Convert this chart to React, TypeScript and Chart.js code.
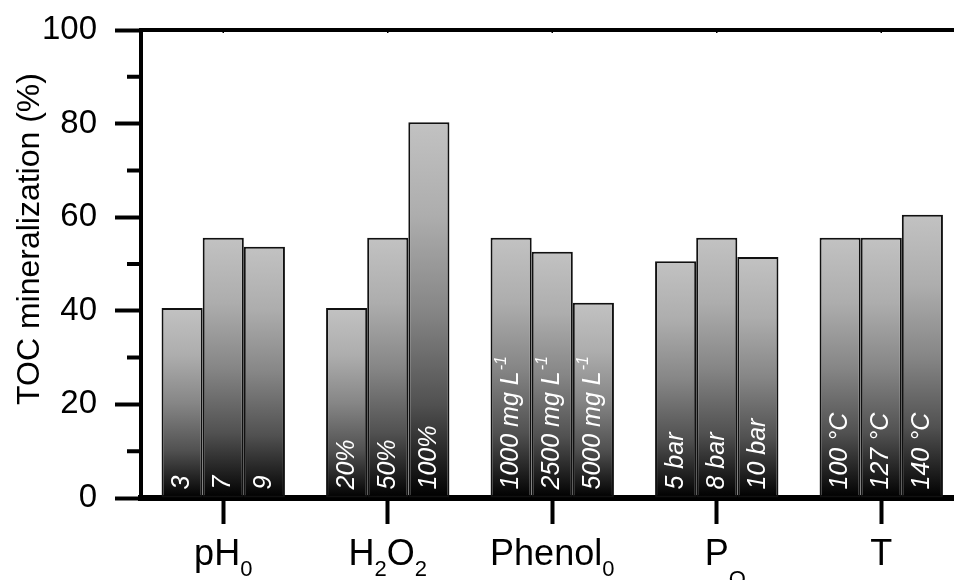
import React, { useEffect, useRef } from 'react';
import { Chart, registerables } from 'chart.js';

Chart.register(...registerables);

const FONT = '"Liberation Sans", Arial, sans-serif';

// Categories (x groups)
const categories = ['pH0', 'H2O2', 'Phenol0', 'PO2', 'T'];
// Rich x labels: [text, level] (0 = main, 1 = subscript, 2 = lower subscript, 3 = sub-subscript)
const categoryParts: [string, number][][] = [
  [['pH', 0], ['0', 1]],
  [['H', 0], ['2', 1], ['O', 0], ['2', 1]],
  [['Phenol', 0], ['0', 1]],
  [['P', 0], ['O', 2], ['2', 3]],
  [['T', 0]],
];

// TOC mineralization (%) for the three levels of each variable
const seriesLow = [40.6, 40.6, 55.6, 50.6, 55.6];
const seriesMid = [55.6, 55.6, 52.6, 55.6, 55.6];
const seriesHigh = [53.7, 80.3, 41.7, 51.5, 60.5];

// In-bar labels
const labelsLow = ['3', '20%', '1000 mg L', '5 bar', '100 °C'];
const labelsMid = ['7', '50%', '2500 mg L', '8 bar', '127 °C'];
const labelsHigh = ['9', '100%', '5000 mg L', '10 bar', '140 °C'];
const labelSup = ['', '', '-1', '', ''];

// Y axis
const yTitle = 'TOC mineralization (%)';
const yMin = 0;
const yMax = 100;
const yMajorStep = 20;
const yMinorTicks = [10, 30, 50, 70, 90];

const barLabels = [labelsLow, labelsMid, labelsHigh];

const levelStyle: Record<number, { size: number; dy: number }> = {
  0: { size: 36, dy: 0 },
  1: { size: 22, dy: 11 },
  2: { size: 22, dy: 21 },
  3: { size: 15, dy: 27 },
};

function gradientFill(ctx: any) {
  const chart = ctx.chart;
  const area = chart.chartArea;
  if (!area || ctx.type !== 'data') return '#c0c0c0';
  const y = chart.scales.y;
  const top = y.getPixelForValue(ctx.raw);
  const bottom = y.getPixelForValue(0);
  if (!isFinite(top) || !isFinite(bottom) || bottom - top < 1) return '#c0c0c0';
  const g = chart.ctx.createLinearGradient(0, top, 0, bottom);
  g.addColorStop(0, '#c2c2c2');
  g.addColorStop(0.25, '#adadad');
  g.addColorStop(0.5, '#868686');
  g.addColorStop(0.75, '#515151');
  g.addColorStop(1, '#000000');
  return g;
}

const decorPlugin = {
  id: 'decor',
  afterDatasetsDraw(chart: any) {
    const ctx = chart.ctx;
    ctx.save();
    chart.data.datasets.forEach((_ds: any, i: number) => {
      const meta = chart.getDatasetMeta(i);
      meta.data.forEach((bar: any, j: number) => {
        const { x, base } = bar.getProps(['x', 'base'], true);
        const text = barLabels[i][j];
        ctx.save();
        ctx.translate(x, base - 8);
        ctx.rotate(-Math.PI / 2);
        ctx.fillStyle = '#ffffff';
        ctx.textBaseline = 'middle';
        ctx.textAlign = 'left';
        ctx.font = `italic 25px ${FONT}`;
        ctx.fillText(text, 0, 0);
        const sup = labelSup[j];
        if (sup) {
          const w = ctx.measureText(text).width;
          ctx.font = `italic 16px ${FONT}`;
          ctx.fillText(sup, w + 1, -10);
        }
        ctx.restore();
      });
    });
    ctx.restore();
  },
  afterDraw(chart: any) {
    const ctx = chart.ctx;
    const { left, right, top, bottom } = chart.chartArea;
    const ys = chart.scales.y;
    const xs = chart.scales.x;
    ctx.save();
    ctx.strokeStyle = '#000';
    ctx.lineCap = 'butt';
    // top frame line and right frame line
    ctx.lineWidth = 4;
    ctx.beginPath();
    ctx.moveTo(left - 2, top);
    ctx.lineTo(right + 2, top);
    ctx.moveTo(right, top);
    ctx.lineTo(right, bottom);
    ctx.stroke();
    // minor y ticks
    ctx.lineWidth = 4;
    ctx.beginPath();
    yMinorTicks.forEach((v) => {
      const py = ys.getPixelForValue(v);
      ctx.moveTo(left - 14, py);
      ctx.lineTo(left, py);
    });
    ctx.stroke();
    // small top ticks at category centers
    ctx.lineWidth = 1.5;
    ctx.beginPath();
    categories.forEach((_c, i) => {
      const px = xs.getPixelForValue(i);
      ctx.moveTo(px, top);
      ctx.lineTo(px, top + 3);
    });
    ctx.stroke();
    // y axis title
    ctx.fillStyle = '#000';
    ctx.save();
    ctx.translate(30, (top + bottom) / 2 - 25);
    ctx.rotate(-Math.PI / 2);
    ctx.textAlign = 'center';
    ctx.textBaseline = 'middle';
    ctx.font = `32px ${FONT}`;
    ctx.fillText(yTitle, 0, 0);
    ctx.restore();
    // x category labels with subscripts
    ctx.textBaseline = 'alphabetic';
    ctx.textAlign = 'left';
    const baseY = 565;
    categoryParts.forEach((parts, i) => {
      const cx = xs.getPixelForValue(i);
      let centred = 0;
      const widths = parts.map(([t, lvl]) => {
        ctx.font = `${levelStyle[lvl].size}px ${FONT}`;
        const w = ctx.measureText(t).width;
        if (lvl <= 1) centred += w;
        return w;
      });
      let x = cx - centred / 2;
      parts.forEach(([t, lvl], k) => {
        ctx.font = `${levelStyle[lvl].size}px ${FONT}`;
        ctx.fillText(t, x, baseY + levelStyle[lvl].dy);
        x += widths[k];
      });
    });
    ctx.restore();
  },
};

export default function App() {
  const canvasRef = useRef<HTMLCanvasElement | null>(null);

  useEffect(() => {
    if (!canvasRef.current) return;
    Chart.defaults.font.family = FONT;
    const mkDataset = (data: number[]) => ({
      data,
      backgroundColor: gradientFill,
      borderColor: '#111111',
      borderWidth: 2,
      borderSkipped: false as const,
      categoryPercentage: 0.75,
      barPercentage: 1.0,
    });
    const chart = new Chart(canvasRef.current, {
      type: 'bar',
      data: {
        labels: categories,
        datasets: [mkDataset(seriesLow), mkDataset(seriesMid), mkDataset(seriesHigh)],
      },
      options: {
        animation: false,
        responsive: true,
        maintainAspectRatio: false,
        layout: { padding: { left: 0, right: 16.5, top: 30, bottom: 0 } },
        plugins: {
          legend: { display: false },
          tooltip: { enabled: false },
        },
        scales: {
          x: {
            type: 'category',
            afterFit: (scale: any) => {
              scale.height = 82;
              scale.paddingLeft = 0;
              scale.paddingRight = 0;
            },
            grid: {
              display: true,
              offset: false,
              drawOnChartArea: false,
              drawTicks: true,
              tickLength: 26,
              tickWidth: 4,
              tickColor: '#000',
            },
            border: { display: true, color: '#000', width: 6 },
            ticks: { display: false },
          },
          y: {
            min: yMin,
            max: yMax,
            afterFit: (scale: any) => {
              scale.width = 141;
              scale.paddingTop = 0;
              scale.paddingBottom = 0;
            },
            ticks: {
              stepSize: yMajorStep,
              color: '#000',
              padding: 18,
              font: { family: FONT, size: 33 },
            },
            grid: {
              display: true,
              drawOnChartArea: false,
              drawTicks: true,
              tickLength: 26,
              tickWidth: 4,
              tickColor: '#000',
            },
            border: { display: true, color: '#000', width: 4 },
            title: { display: false },
          },
        },
      },
      plugins: [decorPlugin],
    });
    return () => chart.destroy();
  }, []);

  return (
    <div style={{ position: 'absolute', left: 0, top: 0, width: 954, height: 580, overflow: 'hidden', background: '#fff' }}>
      <div style={{ position: 'relative', width: 980, height: 580 }}>
        <canvas ref={canvasRef} />
      </div>
    </div>
  );
}
